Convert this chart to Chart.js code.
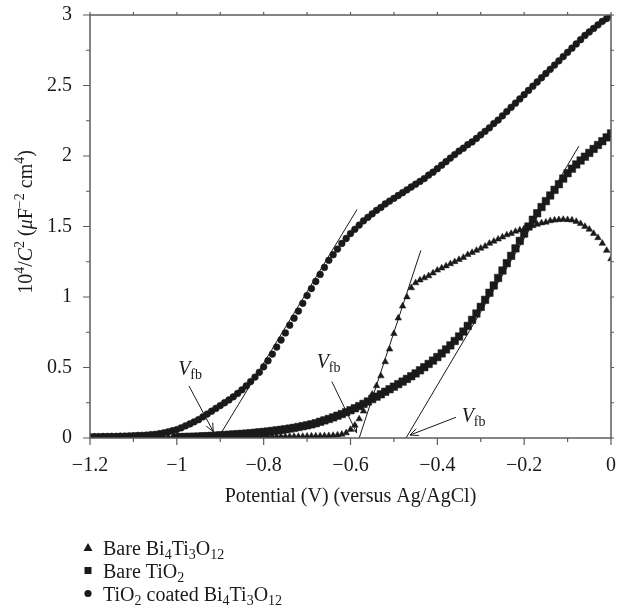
<!DOCTYPE html>
<html><head><meta charset="utf-8">
<script src="https://cdn.jsdelivr.net/npm/chart.js@4.4.0/dist/chart.umd.min.js"></script>
<style>html,body{margin:0;padding:0;background:#fff;}canvas{display:block;}</style>
</head><body>
<canvas id="c" width="619" height="610" style="width:619px;height:610px"></canvas>
<script>
// Potential (V versus Ag/AgCl)
const potential = [
-1.20,-1.19,-1.18,-1.17,-1.16,-1.15,-1.14,-1.13,-1.12,-1.11,
-1.10,-1.09,-1.08,-1.07,-1.06,-1.05,-1.04,-1.03,-1.02,-1.01,
-1.00,-0.99,-0.98,-0.97,-0.96,-0.95,-0.94,-0.93,-0.92,-0.91,
-0.90,-0.89,-0.88,-0.87,-0.86,-0.85,-0.84,-0.83,-0.82,-0.81,
-0.80,-0.79,-0.78,-0.77,-0.76,-0.75,-0.74,-0.73,-0.72,-0.71,
-0.70,-0.69,-0.68,-0.67,-0.66,-0.65,-0.64,-0.63,-0.62,-0.61,
-0.60,-0.59,-0.58,-0.57,-0.56,-0.55,-0.54,-0.53,-0.52,-0.51,
-0.50,-0.49,-0.48,-0.47,-0.46,-0.45,-0.44,-0.43,-0.42,-0.41,
-0.40,-0.39,-0.38,-0.37,-0.36,-0.35,-0.34,-0.33,-0.32,-0.31,
-0.30,-0.29,-0.28,-0.27,-0.26,-0.25,-0.24,-0.23,-0.22,-0.21,
-0.20,-0.19,-0.18,-0.17,-0.16,-0.15,-0.14,-0.13,-0.12,-0.11,
-0.10,-0.09,-0.08,-0.07,-0.06,-0.05,-0.04,-0.03,-0.02,-0.01,
0.00];

// Bare Bi4Ti3O12 (triangles)
const bareBTO = [
0.008,0.008,0.008,0.008,0.008,0.008,0.008,0.008,0.008,0.008,
0.008,0.008,0.008,0.008,0.008,0.008,0.008,0.008,0.008,0.008,
0.009,0.009,0.009,0.009,0.009,0.009,0.009,0.009,0.009,0.009,
0.010,0.010,0.010,0.010,0.010,0.010,0.010,0.010,0.010,0.010,
0.011,0.011,0.011,0.011,0.011,0.011,0.011,0.011,0.011,0.011,
0.012,0.013,0.013,0.014,0.015,0.016,0.018,0.021,0.026,0.036,
0.06,0.09,0.135,0.19,0.25,0.31,0.37,0.44,0.54,0.63,
0.74,0.85,0.935,1.00,1.065,1.10,1.12,1.135,1.15,1.17,
1.19,1.205,1.22,1.235,1.25,1.265,1.28,1.30,1.315,1.33,
1.345,1.36,1.38,1.395,1.41,1.425,1.44,1.45,1.465,1.475,
1.485,1.495,1.505,1.515,1.525,1.53,1.54,1.545,1.548,1.55,
1.548,1.545,1.535,1.52,1.50,1.48,1.45,1.42,1.38,1.33,
1.27];

// Bare TiO2 (squares)
const bareTiO2 = [
null,null,null,null,null,null,null,null,null,null,
null,null,null,null,null,null,null,null,null,null,
0.005,0.006,0.007,0.008,0.009,0.010,0.012,0.013,0.015,0.017,
0.019,0.021,0.023,0.025,0.027,0.029,0.031,0.034,0.037,0.040,
0.043,0.046,0.050,0.054,0.058,0.062,0.067,0.072,0.078,0.084,
0.090,0.097,0.105,0.115,0.125,0.135,0.146,0.158,0.170,0.183,
0.197,0.211,0.226,0.242,0.259,0.276,0.293,0.310,0.328,0.346,
0.364,0.382,0.400,0.419,0.438,0.458,0.480,0.502,0.525,0.549,
0.574,0.600,0.628,0.657,0.688,0.720,0.755,0.795,0.838,0.883,
0.930,0.980,1.030,1.082,1.135,1.188,1.240,1.292,1.345,1.398,
1.450,1.500,1.548,1.594,1.638,1.680,1.720,1.760,1.800,1.840,
1.878,1.910,1.940,1.968,1.995,2.022,2.050,2.078,2.105,2.132,
2.160];

// TiO2 coated Bi4Ti3O12 (circles)
const coatedBTO = [
0.010,0.010,0.010,0.011,0.011,0.012,0.012,0.013,0.014,0.015,
0.016,0.018,0.019,0.021,0.024,0.026,0.031,0.037,0.044,0.052,
0.060,0.072,0.086,0.100,0.115,0.130,0.150,0.170,0.190,0.210,
0.230,0.250,0.270,0.292,0.316,0.342,0.370,0.400,0.432,0.466,
0.505,0.548,0.595,0.645,0.695,0.745,0.800,0.850,0.900,0.955,
1.010,1.060,1.110,1.160,1.210,1.260,1.300,1.340,1.380,1.415,
1.450,1.480,1.510,1.540,1.565,1.590,1.615,1.635,1.660,1.680,
1.700,1.720,1.740,1.760,1.780,1.800,1.820,1.840,1.865,1.885,
1.910,1.935,1.960,1.985,2.010,2.035,2.055,2.080,2.100,2.125,
2.150,2.175,2.200,2.230,2.255,2.285,2.315,2.345,2.375,2.405,
2.435,2.465,2.495,2.525,2.555,2.585,2.615,2.645,2.675,2.705,
2.735,2.765,2.795,2.825,2.855,2.880,2.905,2.930,2.955,2.975,
3.000];

const xTickLabels = ['\u22121.2','\u22121','\u22120.8','\u22120.6','\u22120.4','\u22120.2','0'];
const yTickLabels = ['0','0.5','1','1.5','2','2.5','3'];

// Tangent (flat-band extrapolation) lines: [potential, value] end points
const tangentCoated = [[-0.905, 0], [-0.585, 1.62]];
const tangentBTO    = [[-0.580, 0], [-0.438, 1.33]];
const tangentTiO2   = [[-0.472, 0], [-0.074, 2.07]];

// V_fb annotations: label anchor [potential, value], arrow [tailX, tailY, headX, headY]
const vfbLabels = [[-0.997, 0.447], [-0.678, 0.496], [-0.344, 0.116]];
const vfbArrows = [[-0.972, 0.369, -0.916, 0.045], [-0.643, 0.400, -0.586, 0.038], [-0.357, 0.147, -0.463, 0.021]];

const legendItems = [
  {style: 'triangle', segs: [['Bare Bi',0],['4',-1],['Ti',0],['3',-1],['O',0],['12',-1]]},
  {style: 'rect', segs: [['Bare TiO',0],['2',-1]]},
  {style: 'circle', segs: [['TiO',0],['2',-1],[' coated Bi',0],['4',-1],['Ti',0],['3',-1],['O',0],['12',-1]]}
];

const FONT = '"Liberation Serif", "Times New Roman", serif';
const INK = '#1a1a1a';
const AXIS = '#5c5c5c';
const FS = 20;

function toPts(arr) {
  const out = [];
  for (let i = 0; i < potential.length; i++) if (arr[i] !== null) out.push({x: potential[i], y: arr[i]});
  return out;
}
function seg(p) { return p.map(q => ({x: q[0], y: q[1]})); }

function richWidth(ctx, segs, size) {
  let w = 0;
  for (const s of segs) {
    const sz = s[1] === 0 ? size : size * 0.7;
    ctx.font = (s[2] ? 'italic ' : '') + sz + 'px ' + FONT;
    w += ctx.measureText(s[0]).width;
  }
  return w;
}
function richDraw(ctx, segs, x, y, size) {
  ctx.textAlign = 'left';
  ctx.textBaseline = 'alphabetic';
  for (const s of segs) {
    const sz = s[1] === 0 ? size : size * 0.7;
    ctx.font = (s[2] ? 'italic ' : '') + sz + 'px ' + FONT;
    const dy = s[1] === -1 ? size * 0.22 : (s[1] === 1 ? -size * 0.38 : 0);
    ctx.fillText(s[0], x, y + dy);
    x += ctx.measureText(s[0]).width;
  }
  return x;
}

const decor = {
  id: 'decor',
  afterDraw(chart) {
    const ctx = chart.ctx;
    const xs = chart.scales.x, ys = chart.scales.y;
    const a = chart.chartArea;
    const X = v => xs.getPixelForValue(v), Y = v => ys.getPixelForValue(v);
    ctx.save();
    ctx.strokeStyle = AXIS;
    ctx.lineWidth = 1.5;
    ctx.strokeRect(a.left, a.top, a.right - a.left, a.bottom - a.top);
    ctx.lineWidth = 1.2;
    ctx.beginPath();
    const xt = xs.ticks.map(t => t.value);
    for (let i = 0; i < xt.length; i++) {
      const px = X(xt[i]);
      ctx.moveTo(px, a.bottom); ctx.lineTo(px, a.bottom + 7);
      ctx.moveTo(px, a.top); ctx.lineTo(px, a.top - 3);
      if (i < xt.length - 1) {
        const pm = X((xt[i] + xt[i + 1]) / 2);
        ctx.moveTo(pm, a.bottom); ctx.lineTo(pm, a.bottom + 4);
        ctx.moveTo(pm, a.top); ctx.lineTo(pm, a.top - 3);
      }
    }
    const yt = ys.ticks.map(t => t.value);
    for (let i = 0; i < yt.length; i++) {
      const py = Y(yt[i]);
      ctx.moveTo(a.left, py); ctx.lineTo(a.left - 7, py);
      ctx.moveTo(a.right, py); ctx.lineTo(a.right + 3, py);
      if (i < yt.length - 1) {
        const pm = Y((yt[i] + yt[i + 1]) / 2);
        ctx.moveTo(a.left, pm); ctx.lineTo(a.left - 4, pm);
        ctx.moveTo(a.right, pm); ctx.lineTo(a.right + 3, pm);
      }
    }
    ctx.stroke();

    ctx.strokeStyle = INK;
    ctx.lineWidth = 1;
    for (const ar of vfbArrows) {
      const x1 = X(ar[0]), y1 = Y(ar[1]), x2 = X(ar[2]), y2 = Y(ar[3]);
      const ang = Math.atan2(y2 - y1, x2 - x1);
      const L = 9, h = 0.42;
      ctx.beginPath();
      ctx.moveTo(x1, y1); ctx.lineTo(x2, y2);
      ctx.moveTo(x2 - L * Math.cos(ang - h), y2 - L * Math.sin(ang - h));
      ctx.lineTo(x2, y2);
      ctx.lineTo(x2 - L * Math.cos(ang + h), y2 - L * Math.sin(ang + h));
      ctx.stroke();
    }
    ctx.fillStyle = INK;
    for (const lb of vfbLabels) {
      richDraw(ctx, [['V', 0, true], ['fb', -1]], X(lb[0]), Y(lb[1]), FS);
    }

    ctx.font = FS + 'px ' + FONT;
    ctx.textAlign = 'center';
    ctx.textBaseline = 'alphabetic';
    ctx.fillText('Potential (V) (versus Ag/AgCl)', (a.left + a.right) / 2, 502);

    const ySegs = [['10',0],['4',1],['/',0],['C',0,true],['2',1],[' (',0],['\u03bc',0,true],['F',0],['\u22122',1],[' cm',0],['4',1],[')',0]];
    ctx.save();
    ctx.translate(32, 222);
    ctx.rotate(-Math.PI / 2);
    const w = richWidth(ctx, ySegs, FS);
    richDraw(ctx, ySegs, -w / 2, 0, FS);
    ctx.restore();

    const baseY = [555, 578, 601];
    legendItems.forEach((it, i) => {
      const cy = baseY[i] - 7.5, cx = 88;
      ctx.fillStyle = INK;
      ctx.beginPath();
      if (it.style === 'triangle') {
        ctx.moveTo(cx, cy - 4.5); ctx.lineTo(cx + 4.5, cy + 3.5); ctx.lineTo(cx - 4.5, cy + 3.5); ctx.closePath();
      } else if (it.style === 'rect') {
        ctx.rect(cx - 3.5, cy - 3.5, 7, 7);
      } else {
        ctx.arc(cx, cy, 3.6, 0, Math.PI * 2);
      }
      ctx.fill();
      richDraw(ctx, it.segs, 103, baseY[i], FS);
    });
    ctx.restore();
  }
};

const lineDs = (p) => ({type: 'line', data: seg(p), showLine: true, borderColor: INK, borderWidth: 1, pointRadius: 0, fill: false, order: 0});

new Chart(document.getElementById('c'), {
  type: 'scatter',
  data: {
    datasets: [
      lineDs(tangentCoated), lineDs(tangentBTO), lineDs(tangentTiO2),
      {label: 'Bare Bi4Ti3O12', data: toPts(bareBTO), pointStyle: 'triangle', pointRadius: 3.8, backgroundColor: INK, borderColor: INK, borderWidth: 0.5, order: 1},
      {label: 'Bare TiO2', data: toPts(bareTiO2), pointStyle: 'rect', pointRadius: 5.3, backgroundColor: INK, borderColor: INK, borderWidth: 0.5, order: 2},
      {label: 'TiO2 coated Bi4Ti3O12', data: toPts(coatedBTO), pointStyle: 'circle', pointRadius: 3.4, backgroundColor: INK, borderColor: INK, borderWidth: 0.5, order: 3}
    ]
  },
  options: {
    responsive: false,
    animation: false,
    devicePixelRatio: 1,
    layout: {padding: {left: 0, right: 8, top: 15, bottom: 0}},
    plugins: {legend: {display: false}, tooltip: {enabled: false}},
    scales: {
      x: {
        type: 'linear', min: -1.2, max: 0,
        grid: {display: false, drawTicks: false},
        border: {display: false},
        ticks: {stepSize: 0.2, padding: 16, color: INK, font: {family: FONT, size: FS},
          callback: (v, i) => xTickLabels[i]},
        afterFit: s => { s.height = 172; s.paddingLeft = 0; s.paddingRight = 0; }
      },
      y: {
        min: 0, max: 3,
        grid: {display: false, drawTicks: false},
        border: {display: false},
        ticks: {stepSize: 0.5, padding: 18, color: INK, font: {family: FONT, size: FS},
          callback: (v, i) => yTickLabels[i]},
        afterFit: s => { s.width = 90; s.paddingTop = 0; s.paddingBottom = 0; }
      }
    }
  },
  plugins: [decor]
});
</script>
</body></html>
